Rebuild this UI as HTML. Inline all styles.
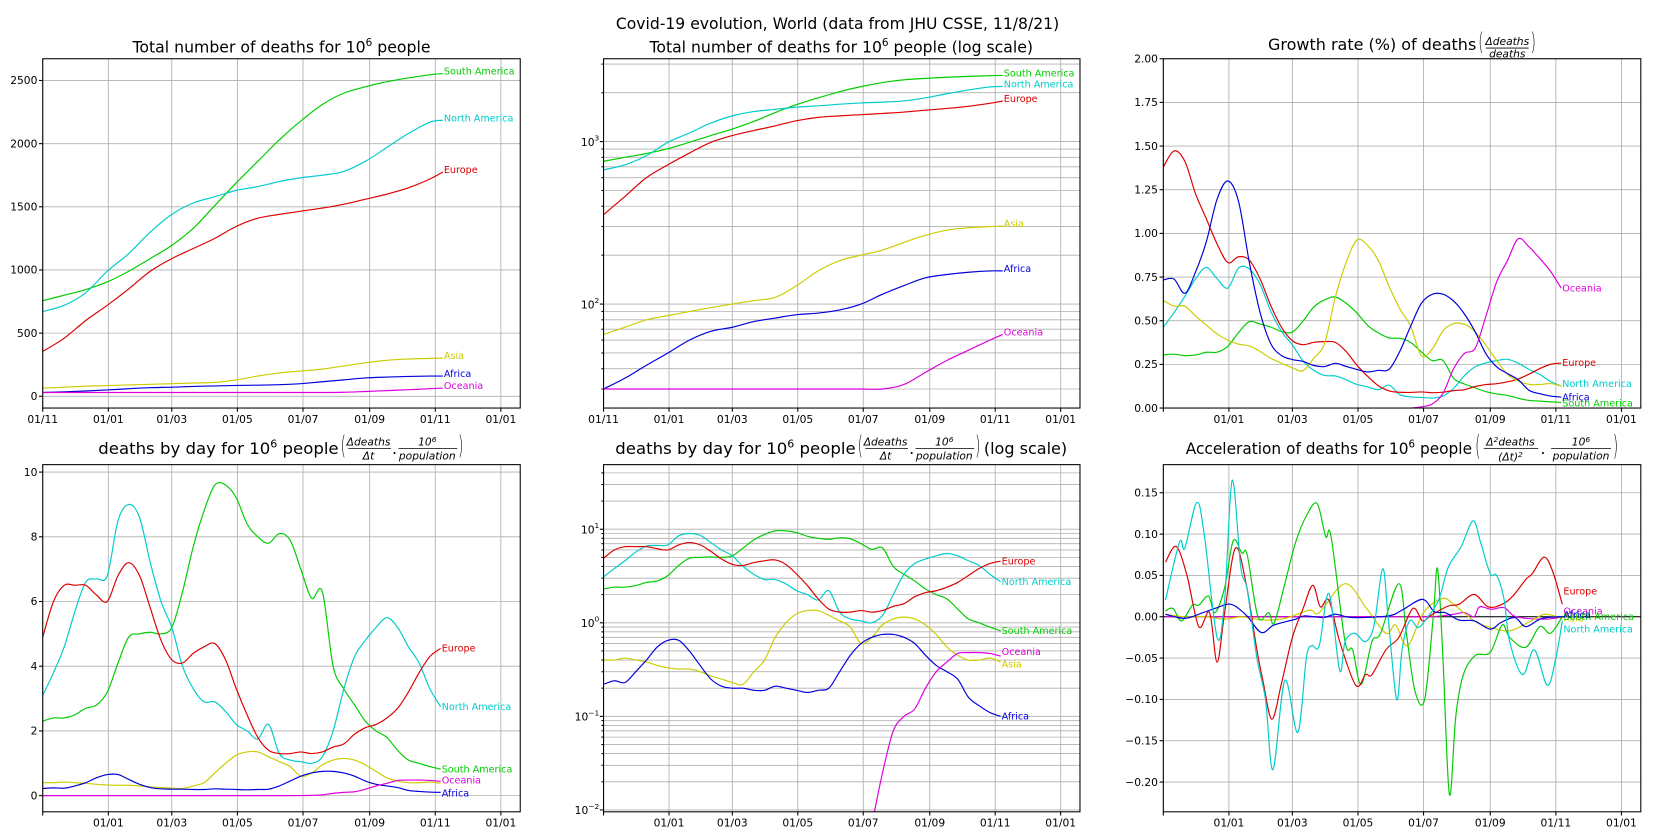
<!DOCTYPE html>
<html>
<head>
<meta charset="utf-8">
<style>
html,body{margin:0;padding:0;background:#fff;}
svg{display:block;font-family:"DejaVu Sans","Liberation Sans",sans-serif;}
.t{font-size:15px;fill:#000;}
.fr{font-size:10px;font-style:italic;fill:#000;}
.tick{font-size:10px;fill:#000;}
.lbl{font-size:9px;}
.par{font-size:15px;fill:#000;font-weight:lighter;}
</style>
</head>
<body>
<svg id="fig" width="1675" height="840" viewBox="0 0 1568 786.4" preserveAspectRatio="none" xmlns="http://www.w3.org/2000/svg">
  <rect x="0" y="0" width="1568" height="786.4" fill="#fff"/>
  <text class="t" x="784" y="27" text-anchor="middle" textLength="415" lengthAdjust="spacingAndGlyphs">Covid-19 evolution, World (data from JHU CSSE, 11/8/21)</text>

  <g>
    <text class="t" x="124" y="49" textLength="279" lengthAdjust="spacingAndGlyphs">Total number of deaths for 10<tspan dy="-6" font-size="10">6</tspan><tspan dy="6"> people</tspan></text>
  </g>
  <g>
    <text class="t" x="608" y="49" textLength="359" lengthAdjust="spacingAndGlyphs">Total number of deaths for 10<tspan dy="-6" font-size="10">6</tspan><tspan dy="6"> people (log scale)</tspan></text>
  </g>
  <g>
    <text class="t" x="1187" y="47" textLength="195" lengthAdjust="spacingAndGlyphs">Growth rate (%) of deaths</text>
    <text class="par" x="1384" y="47" transform="translate(1384,47) scale(0.8,1.5) translate(-1384,-47)">(</text>
    <text class="fr" x="1411" y="42" text-anchor="middle" font-style="normal">Δ<tspan font-style="italic">deaths</tspan></text>
    <line x1="1391" y1="45" x2="1431" y2="45" stroke="#000" stroke-width="0.8"/>
    <text class="fr" x="1411" y="54" text-anchor="middle">deaths</text>
    <text class="par" x="1433" y="47" transform="translate(1433,47) scale(0.8,1.5) translate(-1433,-47)">)</text>
  </g>
  <g>
    <text class="t" x="92" y="425" textLength="225" lengthAdjust="spacingAndGlyphs">deaths by day  for 10<tspan dy="-6" font-size="10">6</tspan><tspan dy="6"> people</tspan></text>
    <text class="par" x="319" y="425" transform="translate(319,425) scale(0.8,1.6) translate(-319,-425)">(</text>
    <text class="fr" x="345" y="417" text-anchor="middle" font-style="normal">Δ<tspan font-style="italic">deaths</tspan></text>
    <line x1="326" y1="420" x2="366" y2="420" stroke="#000" stroke-width="0.8"/>
    <text class="fr" x="345" y="430" text-anchor="middle" font-style="normal">Δ<tspan font-style="italic">t</tspan></text>
    <text class="t" x="367" y="425">.</text>
    <text class="fr" x="400" y="417" text-anchor="middle" font-style="normal">10<tspan dy="-3" font-size="7">6</tspan></text>
    <line x1="373" y1="420" x2="428" y2="420" stroke="#000" stroke-width="0.8"/>
    <text class="fr" x="400" y="430" text-anchor="middle">population</text>
    <text class="par" x="429" y="425" transform="translate(429,425) scale(0.8,1.6) translate(-429,-425)">)</text>
  </g>
  <g>
    <text class="t" x="576" y="425" textLength="225" lengthAdjust="spacingAndGlyphs">deaths by day  for 10<tspan dy="-6" font-size="10">6</tspan><tspan dy="6"> people</tspan></text>
    <text class="par" x="803" y="425" transform="translate(803,425) scale(0.8,1.6) translate(-803,-425)">(</text>
    <text class="fr" x="829" y="417" text-anchor="middle" font-style="normal">Δ<tspan font-style="italic">deaths</tspan></text>
    <line x1="810" y1="420" x2="850" y2="420" stroke="#000" stroke-width="0.8"/>
    <text class="fr" x="829" y="430" text-anchor="middle" font-style="normal">Δ<tspan font-style="italic">t</tspan></text>
    <text class="t" x="851" y="425">.</text>
    <text class="fr" x="884" y="417" text-anchor="middle" font-style="normal">10<tspan dy="-3" font-size="7">6</tspan></text>
    <line x1="857" y1="420" x2="912" y2="420" stroke="#000" stroke-width="0.8"/>
    <text class="fr" x="884" y="430" text-anchor="middle">population</text>
    <text class="par" x="913" y="425" transform="translate(913,425) scale(0.8,1.6) translate(-913,-425)">)</text>
    <text class="t" x="921" y="425" textLength="78" lengthAdjust="spacingAndGlyphs">(log scale)</text>
  </g>
  <g>
    <text class="t" x="1110" y="425" textLength="268" lengthAdjust="spacingAndGlyphs">Acceleration of deaths for 10<tspan dy="-6" font-size="10">6</tspan><tspan dy="6"> people</tspan></text>
    <text class="par" x="1381" y="426" transform="translate(1381,426) scale(0.8,1.7) translate(-1381,-426)">(</text>
    <text class="fr" x="1414" y="417" text-anchor="middle" font-style="normal">Δ<tspan dy="-3" font-size="7">2</tspan><tspan dy="3" font-style="italic">deaths</tspan></text>
    <line x1="1389" y1="420" x2="1440" y2="420" stroke="#000" stroke-width="0.8"/>
    <text class="fr" x="1414" y="431" text-anchor="middle" font-style="normal">(Δ<tspan font-style="italic">t</tspan>)<tspan dy="-3" font-size="7">2</tspan></text>
    <text class="t" x="1442" y="425">.</text>
    <text class="fr" x="1480" y="417" text-anchor="middle" font-style="normal">10<tspan dy="-3" font-size="7">6</tspan></text>
    <line x1="1452" y1="420" x2="1508" y2="420" stroke="#000" stroke-width="0.8"/>
    <text class="fr" x="1480" y="430" text-anchor="middle">population</text>
    <text class="par" x="1510" y="426" transform="translate(1510,426) scale(0.8,1.7) translate(-1510,-426)">)</text>
  </g>
  <defs id="defs"></defs>
</svg>
<script>
// ---------- DATA ----------
const regions = ['South America','North America','Europe','Asia','Africa','Oceania'];
const xTickDays = [0,61,120,181,242,304,365,426];
const xTickLabels = ['01/11','01/01','01/03','01/05','01/07','01/09','01/11','01/01'];

// Total deaths per 10^6 people, sampled every 20 days from 01/11/2020
const totalDays = [0,20,40,60,80,100,120,140,160,180,200,220,240,260,280,300,320,340,360,372];
const totalSouthAmerica = [757,800,845,905,990,1090,1195,1330,1510,1690,1860,2030,2180,2310,2400,2450,2490,2520,2545,2555];
const totalNorthAmerica = [670,720,820,990,1130,1300,1440,1530,1580,1630,1660,1700,1730,1750,1780,1860,1970,2080,2170,2185];
const totalEurope = [355,460,600,720,850,990,1090,1170,1250,1345,1410,1440,1465,1490,1520,1560,1600,1650,1720,1775];
const totalAsia = [65,72,80,85,90,95,100,105,110,130,160,185,200,215,240,265,285,295,300,302];
const totalAfrica = [30,35,42,50,60,68,72,78,82,86,88,92,100,115,130,145,152,157,160,160];
const totalOceania = [30,30,30,30,30,30,30,30,30,30,30,30,30,30,32,38,45,52,60,65];

// Deaths per day per 10^6 people (smoothed), every 10 days
const dailyDays = [0,10,20,30,40,50,60,70,80,90,100,110,120,130,140,150,160,170,180,190,200,210,220,230,240,250,260,270,280,290,300,310,320,330,340,350,360,370];
const dailyEurope = [4.9,6.0,6.5,6.5,6.5,6.2,6.0,6.8,7.2,6.8,5.8,4.8,4.2,4.1,4.4,4.6,4.7,4.2,3.3,2.5,1.8,1.4,1.3,1.3,1.35,1.3,1.35,1.5,1.6,1.9,2.1,2.2,2.4,2.7,3.2,3.8,4.3,4.55];
const dailyNorthAmerica = [3.1,3.8,4.6,5.7,6.6,6.7,6.8,8.5,9.0,8.6,7.2,6.0,5.2,4.0,3.3,2.9,2.9,2.6,2.2,2.0,1.75,2.2,1.3,1.1,1.05,1.0,1.2,2.0,3.3,4.3,4.8,5.2,5.5,5.2,4.6,4.1,3.3,2.75];
const dailySouthAmerica = [2.3,2.4,2.4,2.5,2.7,2.8,3.2,4.1,4.9,5.0,5.05,5.0,5.2,6.3,7.7,8.8,9.6,9.6,9.2,8.4,8.0,7.8,8.1,7.9,7.0,6.1,6.3,4.0,3.3,2.8,2.3,2.0,1.8,1.4,1.1,1.0,0.9,0.82];
const dailyAsia = [0.4,0.4,0.42,0.4,0.38,0.35,0.33,0.32,0.32,0.3,0.27,0.25,0.23,0.22,0.3,0.4,0.7,1.0,1.25,1.35,1.35,1.2,1.05,0.9,0.6,0.7,0.95,1.1,1.15,1.1,0.95,0.75,0.55,0.45,0.4,0.4,0.42,0.38];
const dailyAfrica = [0.22,0.24,0.23,0.3,0.4,0.55,0.65,0.65,0.5,0.35,0.25,0.21,0.2,0.2,0.19,0.19,0.21,0.2,0.19,0.18,0.19,0.2,0.3,0.45,0.6,0.7,0.75,0.75,0.7,0.6,0.45,0.35,0.3,0.25,0.16,0.13,0.11,0.1];
const dailyOceania = [0,0,0,0,0,0,0,0,0,0,0,0,0,0,0,0,0,0,0,0,0,0,0,0,0.002,0.007,0.025,0.07,0.1,0.12,0.2,0.3,0.38,0.47,0.48,0.48,0.47,0.44];

// Acceleration keypoints [day, value]
const accelNorthAmerica = [[2,0.02],[15,0.09],[20,0.083],[31,0.138],[38,0.10],[50,-0.025],[57,0.02],[64,0.165],[72,0.06],[78,0.033],[87,-0.05],[95,-0.10],[102,-0.185],[113,-0.077],[125,-0.14],[133,-0.05],[138,-0.035],[145,-0.035],[154,0.028],[164,-0.065],[169,-0.03],[178,-0.02],[188,-0.03],[196,-0.01],[204,0.058],[209,0.0],[217,-0.10],[222,-0.04],[229,-0.005],[237,-0.013],[246,0.0],[256,0.02],[265,0.06],[277,0.085],[288,0.116],[295,0.09],[304,0.052],[310,0.05],[317,0.02],[322,-0.03],[334,-0.07],[345,-0.04],[357,-0.083],[365,-0.05],[371,-0.005]];
const accelSouthAmerica = [[2,0.007],[9,0.01],[17,-0.005],[27,0.014],[33,0.014],[42,0.025],[48,0.005],[57,0.035],[65,0.092],[73,0.077],[78,0.075],[88,0.0],[98,0.005],[103,-0.008],[113,0.04],[123,0.09],[133,0.122],[143,0.137],[151,0.097],[156,0.097],[169,-0.03],[176,-0.04],[184,-0.082],[194,-0.03],[202,-0.02],[219,0.04],[226,-0.02],[234,-0.09],[243,-0.10],[251,0.0],[255,0.058],[260,-0.05],[266,-0.215],[272,-0.12],[279,-0.07],[290,-0.047],[304,-0.043],[315,-0.01],[322,-0.025],[337,-0.037],[350,-0.012],[360,-0.02],[371,0.0]];
const accelEurope = [[2,0.066],[12,0.085],[22,0.05],[33,-0.012],[43,0.005],[50,-0.055],[57,0.005],[67,0.083],[77,0.04],[87,-0.04],[93,-0.08],[101,-0.124],[110,-0.08],[120,-0.025],[130,0.01],[139,0.038],[146,0.012],[154,0.02],[164,-0.03],[179,-0.083],[188,-0.07],[194,-0.07],[207,-0.04],[219,-0.025],[232,0.01],[241,-0.005],[249,0.002],[265,0.013],[275,0.015],[289,0.027],[302,0.012],[315,0.015],[325,0.025],[337,0.045],[343,0.052],[354,0.072],[362,0.055],[371,0.015]];
const accelAsia = [[2,0.003],[20,0.0],[40,0.0],[57,-0.003],[73,0.0],[93,-0.004],[113,-0.002],[136,0.008],[145,0.005],[169,0.04],[189,0.01],[207,-0.02],[216,-0.01],[227,-0.035],[242,0.005],[259,0.022],[270,0.015],[289,-0.005],[302,-0.012],[322,-0.017],[342,-0.005],[355,0.003],[371,-0.002]];
const accelAfrica = [[2,0.003],[20,-0.002],[37,0.005],[50,0.011],[63,0.015],[77,0.002],[91,-0.019],[103,-0.01],[123,-0.003],[131,0.001],[149,-0.001],[160,0.003],[176,-0.001],[209,0.001],[222,0.008],[241,0.021],[252,0.006],[262,0.005],[275,-0.004],[289,-0.005],[304,-0.015],[314,-0.007],[327,-0.001],[337,-0.012],[352,-0.002],[371,0.0]];
const accelOceania = [[2,0],[100,0],[200,0],[250,0.0],[270,0.003],[280,0.005],[289,0.0],[294,0.012],[305,0.009],[317,0.011],[328,0.0],[355,-0.003],[371,0.0]];

// ---------- STYLE ----------
const colors = {'South America':'#00cc00','North America':'#00cccc','Europe':'#dd0000','Asia':'#cccc00','Africa':'#0000dd','Oceania':'#dd00dd'};
const NS = 'http://www.w3.org/2000/svg';
const svg = document.getElementById('fig');
const defs = document.getElementById('defs');

function el(tag, attrs, parent){
  const e = document.createElementNS(NS, tag);
  for (const k in attrs) e.setAttribute(k, attrs[k]);
  (parent || svg).appendChild(e);
  return e;
}
function smooth(pts){
  if (pts.length < 2) return '';
  let d = 'M' + pts[0][0].toFixed(2) + ',' + pts[0][1].toFixed(2);
  for (let i = 0; i < pts.length - 1; i++){
    const p0 = pts[i-1] || pts[i], p1 = pts[i], p2 = pts[i+1], p3 = pts[i+2] || pts[i+1];
    const c1x = p1[0] + (p2[0]-p0[0])/6, c1y = p1[1] + (p2[1]-p0[1])/6;
    const c2x = p2[0] - (p3[0]-p1[0])/6, c2y = p2[1] - (p3[1]-p1[1])/6;
    d += 'C' + c1x.toFixed(2)+','+c1y.toFixed(2)+' '+c2x.toFixed(2)+','+c2y.toFixed(2)+' '+p2[0].toFixed(2)+','+p2[1].toFixed(2);
  }
  return d;
}
function interp(xs, ys, x){
  if (x <= xs[0]) return ys[0];
  for (let i = 1; i < xs.length; i++){
    if (x <= xs[i]) return ys[i-1] + (ys[i]-ys[i-1])*(x-xs[i-1])/(xs[i]-xs[i-1]);
  }
  return ys[ys.length-1];
}

let panelCount = 0;
function makePanel(o){
  panelCount++;
  const g = el('g', {});
  
  
  const W = o.x1 - o.x0, H = o.y1 - o.y0;
  const dmin = 0, dmax = 444;
  const sx = d => o.x0 + (d - dmin)/(dmax - dmin)*W;
  const sy = v => o.log ? o.y1 - (Math.log10(v) - o.ymin)/(o.ymax - o.ymin)*H
                        : o.y1 - (v - o.ymin)/(o.ymax - o.ymin)*H;
  const cid = 'clip' + panelCount;
  const cp = el('clipPath', {id: cid}, defs);
  el('rect', {x: o.x0, y: o.y0, width: W, height: H}, cp);
  const grid = el('g', {stroke:'#b0b0b0','stroke-width':0.8}, g);
  
  
  xTickDays.forEach((d, i) => {
    const x = sx(d);
    if (x < o.x0 - 0.5 || x > o.x1 + 0.5) return;
    el('line', {x1:x, x2:x, y1:o.y0, y2:o.y1}, grid);
    el('line', {x1:x, x2:x, y1:o.y1, y2:o.y1+3.5, stroke:'#000'}, g);
    if (i === 0 && !o.firstX) return;
    const t = el('text', {x:x, y:o.y1+14, 'text-anchor':'middle', class:'tick'}, g);
    
    
    t.textContent = xTickLabels[i];
  });
  if (o.log){
    for (let e = Math.floor(o.ymin); e <= Math.ceil(o.ymax); e++){
      for (let k = 1; k <= 9; k++){
        const v = k*Math.pow(10, e);
        const lv = Math.log10(v);
        if (lv < o.ymin || lv > o.ymax) continue;
        const y = sy(v);
        el('line', {x1:o.x0, x2:o.x1, y1:y, y2:y}, grid);
        el('line', {x1:o.x0-(k===1?3.5:2), x2:o.x0, y1:y, y2:y, stroke:'#000'}, g);
        if (k === 1){
          const t = el('text', {x:o.x0-4, y:y+4, 'text-anchor':'end', class:'tick'}, g);
          
          
          t.textContent = '10';
          const sp = el('tspan', {dy:-5, 'font-size':7}, t);
          sp.textContent = (e < 0 ? '\u2212' : '') + Math.abs(e);
        }
      }
    }
  } else {
    o.yticks.forEach((v, i) => {
      const y = sy(v);
      el('line', {x1:o.x0, x2:o.x1, y1:y, y2:y}, grid);
      el('line', {x1:o.x0-3.5, x2:o.x0, y1:y, y2:y, stroke:'#000'}, g);
      const t = el('text', {x:o.x0-5, y:y+3.5, 'text-anchor':'end', class:'tick'}, g);
      
      
      t.textContent = o.yLabels[i];
    });
  }
  const lines = el('g', {'clip-path':'url(#'+cid+')', fill:'none'}, g);
  
  
  const frame = el('rect', {x:o.x0, y:o.y0, width:W, height:H, fill:'none', stroke:'#000', 'stroke-width':1}, g);
  
  
  return {g, lines, sx, sy, o};
}

function drawSeries(P, region, days, vals, labelVal, labelDy){
  let pts = [];
  const segs = [];
  for (let i = 0; i < days.length; i++){
    const v = vals[i];
    if (P.o.log && !(v > 0)){ if (pts.length) segs.push(pts); pts = []; continue; }
    pts.push([P.sx(days[i]), P.sy(v)]);
  }
  if (pts.length) segs.push(pts);
  segs.forEach(s => {
    const p = el('path', {d: smooth(s), stroke: colors[region], 'stroke-width': 1.1}, P.lines);
    
    
  });
  if (labelVal !== null){
    const last = days[days.length-1];
    const lx = P.sx(last) + 1;
    const ly = P.sy(labelVal) + 3 + (labelDy || 0);
    const t = el('text', {x: lx, y: ly, fill: colors[region], class: 'lbl'}, P.g);
    
    
    t.textContent = region;
  }
}

const totals = {'South America':totalSouthAmerica,'North America':totalNorthAmerica,'Europe':totalEurope,'Asia':totalAsia,'Africa':totalAfrica,'Oceania':totalOceania};
const dailies = {'South America':dailySouthAmerica,'North America':dailyNorthAmerica,'Europe':dailyEurope,'Asia':dailyAsia,'Africa':dailyAfrica,'Oceania':dailyOceania};
const accels = {'South America':accelSouthAmerica,'North America':accelNorthAmerica,'Europe':accelEurope,'Asia':accelAsia,'Africa':accelAfrica,'Oceania':accelOceania};

const P1 = makePanel({name:'total-deaths-chart', x0:40, y0:55, x1:487, y1:382, ymin:-93, ymax:2672, yticks:[0,500,1000,1500,2000,2500], yLabels:['0','500','1000','1500','2000','2500'], firstX:true});
regions.forEach(r => { const a = totals[r]; drawSeries(P1, r, totalDays, a, a[a.length-1], -2); });

const P2 = makePanel({name:'total-deaths-log-chart', x0:565, y0:55, x1:1011, y1:382, log:true, ymin:1.36, ymax:3.51, firstX:true});
regions.forEach(r => { const a = totals[r]; drawSeries(P2, r, totalDays, a, a[a.length-1], -2); });

const P3 = makePanel({name:'growth-rate-chart', x0:1089, y0:55, x1:1536, y1:382, ymin:0, ymax:2, yticks:[0,0.25,0.5,0.75,1,1.25,1.5,1.75,2], yLabels:['0.00','0.25','0.50','0.75','1.00','1.25','1.50','1.75','2.00'], firstX:false});
const growthOffsets = {'South America':1,'North America':-2,'Europe':0,'Asia':0,'Africa':0,'Oceania':0};
regions.forEach(r => {
  const g = dailyDays.map((d, i) => dailies[r][i] / interp(totalDays, totals[r], d) * 100);
  drawSeries(P3, r, dailyDays, g, r === 'Asia' ? null : g[g.length-1], growthOffsets[r]);
});

const P4 = makePanel({name:'deaths-by-day-chart', x0:40, y0:435, x1:487, y1:760, ymin:-0.5, ymax:10.23, yticks:[0,2,4,6,8,10], yLabels:['0','2','4','6','8','10'], firstX:false});
const p4Off = {'South America':0,'North America':0,'Europe':0,'Asia':0,'Africa':1,'Oceania':-1};
regions.forEach(r => { const a = dailies[r]; drawSeries(P4, r, dailyDays, a, r === 'Asia' ? null : a[a.length-1], p4Off[r]); });

const P5 = makePanel({name:'deaths-by-day-log-chart', x0:565, y0:435, x1:1011, y1:760, log:true, ymin:-2.02, ymax:1.69, firstX:false});
const p5Off = {'South America':0,'North America':0,'Europe':0,'Asia':2,'Africa':0,'Oceania':-4};
regions.forEach(r => { const a = dailies[r]; drawSeries(P5, r, dailyDays, a, a[a.length-1], p5Off[r]); });

const P6 = makePanel({name:'acceleration-chart', x0:1089, y0:435, x1:1536, y1:760, ymin:-0.236, ymax:0.184, yticks:[-0.2,-0.15,-0.1,-0.05,0,0.05,0.1,0.15], yLabels:['\u22120.20','\u22120.15','\u22120.10','\u22120.05','0.00','0.05','0.10','0.15'], firstX:false});
const zl = el('line', {x1:1089, x2:1536, y1:P6.sy(0), y2:P6.sy(0), stroke:'#000', 'stroke-width':1}, P6.lines);


const p6Off = {'South America':0,'North America':8,'Europe':-12,'Asia':0,'Africa':-2,'Oceania':-5};
const p6Order = ['Oceania','Asia','South America','Europe','Africa','North America'];
p6Order.forEach(r => {
  const a = accels[r];
  drawSeries(P6, r, a.map(p => p[0]), a.map(p => p[1]), a[a.length-1][1], p6Off[r]);
});
</script>
</body>
</html>
